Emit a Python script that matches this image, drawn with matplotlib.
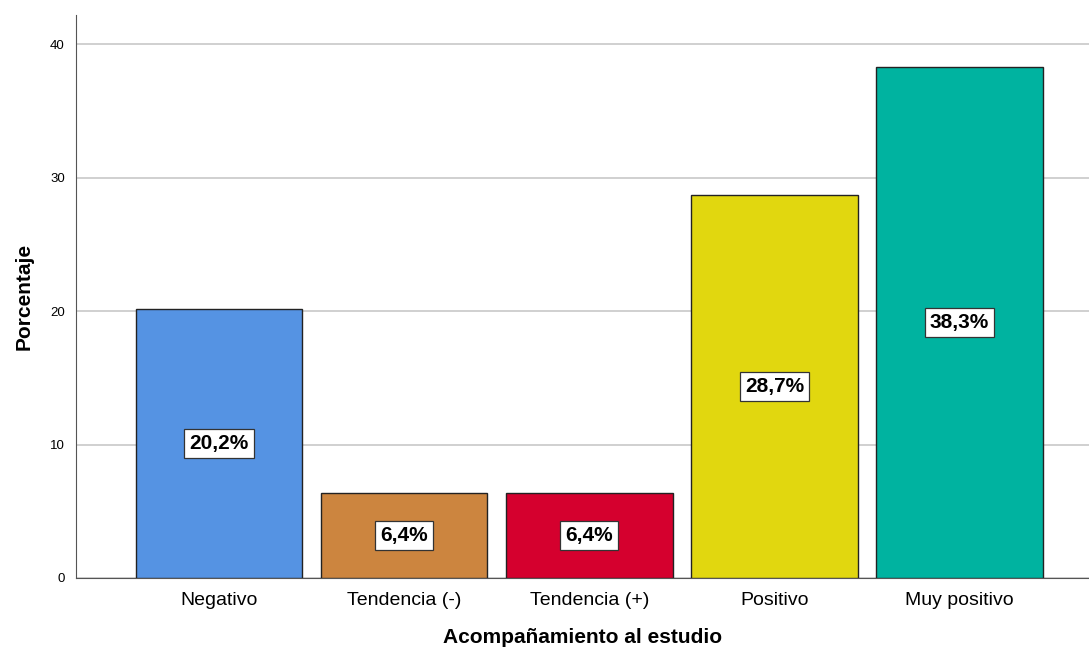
import matplotlib.pyplot as plt

plt.rcParams['font.family'] = ['Liberation Sans', 'DejaVu Sans']

categorias = ['Negativo', 'Tendencia (-)', 'Tendencia (+)', 'Positivo', 'Muy positivo']
porcentajes = [20.2, 6.4, 6.4, 28.7, 38.3]
etiquetas = ['20,2%', '6,4%', '6,4%', '28,7%', '38,3%']
colores = ['#5593E3', '#CC853F', '#D5002E', '#E1D70F', '#00B3A0']
yticks = [0, 10, 20, 30, 40]

fig = plt.figure(figsize=(10.89, 6.52), dpi=100)
ax = fig.add_axes([76 / 1089, 74 / 652, 1 - 76 / 1089, (578 - 15) / 652])

x = list(range(len(categorias)))
ax.bar(x, porcentajes, width=0.9, color=colores, edgecolor='#222222', linewidth=1.0, zorder=3)

# etiquetas de valor en el centro de cada barra
for xi, v, lab in zip(x, porcentajes, etiquetas):
    ax.text(xi, v / 2, lab, ha='center', va='center', fontsize=15, fontweight='bold',
            bbox=dict(boxstyle='square,pad=0.25', facecolor='white', edgecolor='#333333', linewidth=0.9),
            zorder=4)

ax.set_xlim(-0.773, 4.70)
ax.set_ylim(0, 42.2)
ax.set_yticks(yticks)
ax.set_xticks(x)
ax.set_xticklabels(categorias, fontsize=14)
ax.tick_params(axis='y', length=0, labelsize=9.5, pad=8)
ax.tick_params(axis='x', length=0, pad=10)
ax.yaxis.grid(True, color='#C8C8C8', linewidth=1.2, zorder=0)
ax.set_axisbelow(True)

ax.spines['top'].set_visible(False)
ax.spines['right'].set_visible(False)
ax.spines['left'].set_color('#555555')
ax.spines['bottom'].set_color('#555555')

ax.set_xlabel('Acompañamiento al estudio', fontsize=15, fontweight='bold', labelpad=14)
ax.set_ylabel('Porcentaje', fontsize=15, fontweight='bold', labelpad=12)

plt.savefig('out.png', dpi=100)
